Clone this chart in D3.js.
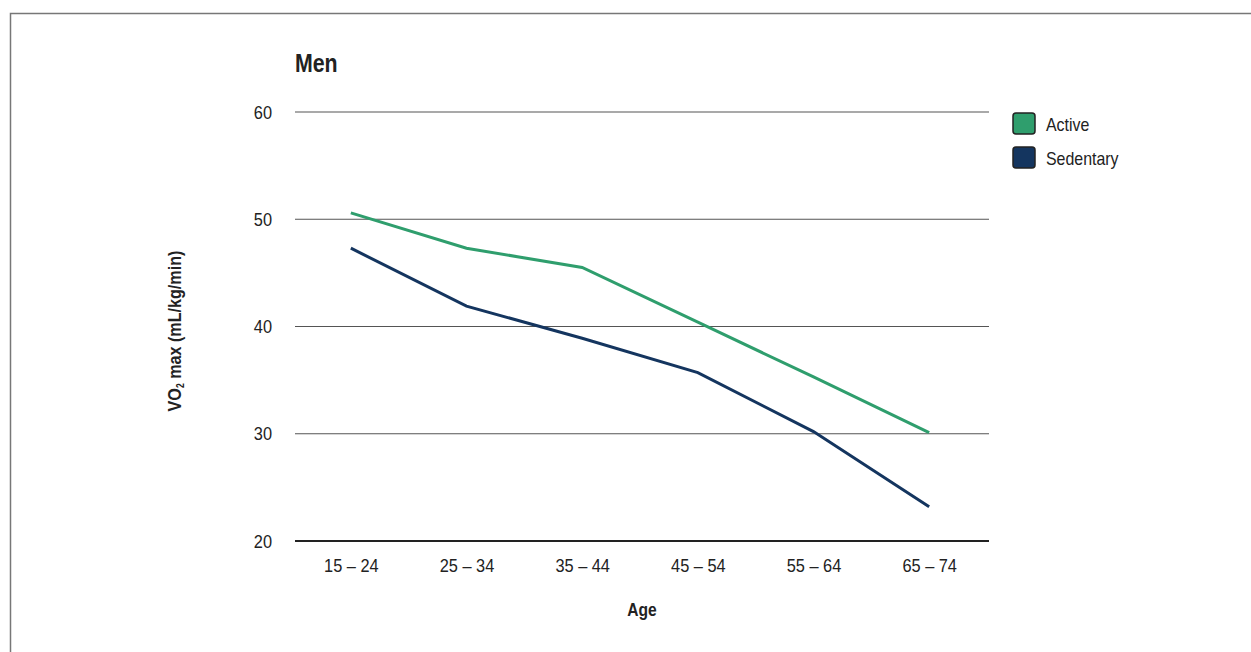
<!DOCTYPE html>
<html><head><meta charset="utf-8">
<script src="https://cdn.jsdelivr.net/npm/d3@7"></script>
<style>
body{margin:0;background:#fff;}
text{font-family:"Liberation Sans",Arial,sans-serif;fill:#222;}
</style></head>
<body><svg id="chart" width="1251" height="652"></svg>
<script>
const categories = ["15 – 24","25 – 34","35 – 44","45 – 54","55 – 64","65 – 74"];
const activeValues = [50.6, 47.3, 45.5, 40.4, 35.3, 30.1];
const sedentaryValues = [47.3, 41.9, 38.9, 35.7, 30.2, 23.2];
const yTicks = [20, 30, 40, 50, 60];
const seriesNames = ["Active", "Sedentary"];
const seriesColors = ["#2f9e6d", "#14355f"];

const svg = d3.select("#chart");
// frame
svg.append("path").attr("d","M10.5,652 V13.5 H1251").attr("fill","none").attr("stroke","#777").attr("stroke-width",1.5);

const x = d3.scalePoint().domain(categories).range([293, 987]).padding(0.5);
const y = d3.scaleLinear().domain([20, 60]).range([541, 112]);

// grid
svg.append("g").selectAll("line").data(yTicks).join("line")
  .attr("x1",295).attr("x2",989)
  .attr("y1",d=>y(d)).attr("y2",d=>y(d))
  .attr("stroke",d=>d===20?"#222":"#555")
  .attr("stroke-width",d=>d===20?2:1.2);

const yAxis = svg.append("g").attr("transform","translate(272,0)")
  .call(d3.axisLeft(y).tickValues(yTicks).tickSize(0).tickPadding(0));
yAxis.select(".domain").remove();
yAxis.selectAll("text").attr("font-size",19).attr("font-family",null).attr("fill","#222");

const xAxis = svg.append("g").attr("transform","translate(0,541)")
  .call(d3.axisBottom(x).tickSize(0).tickPadding(18));
xAxis.select(".domain").remove();
xAxis.selectAll("text").attr("font-size",19).attr("font-family",null).attr("fill","#222");

const line = d3.line().x((d,i)=>x(categories[i])).y(d=>y(d));
[activeValues, sedentaryValues].forEach((vals,i)=>{
  svg.append("path").datum(vals).attr("d",line).attr("fill","none")
    .attr("stroke",seriesColors[i]).attr("stroke-width",3);
});

// title
svg.append("text").attr("class","cond").attr("x",295).attr("y",72).attr("font-size",26).attr("font-weight","bold").text("Men");

// axis titles
const yl = svg.append("text").attr("transform","translate(181,331) rotate(-90) scale(0.85,1)")
  .attr("text-anchor","middle").attr("font-size",19).attr("font-weight","bold");
yl.append("tspan").text("VO");
yl.append("tspan").attr("font-size",10).attr("dy",3).text("2");
yl.append("tspan").attr("dy",-3).text(" max (mL/kg/min)");

svg.append("text").attr("class","cond").attr("x",642).attr("y",616).attr("text-anchor","middle")
  .attr("font-size",19).attr("font-weight","bold").text("Age");

// legend
const lg = svg.append("g");
seriesNames.forEach((n,i)=>{
  const yy = 113 + i*34;
  lg.append("rect").attr("x",1013).attr("y",yy).attr("width",22).attr("height",21).attr("rx",3)
    .attr("fill",seriesColors[i]).attr("stroke","#222").attr("stroke-width",1.5);
  lg.append("text").attr("class","cond").attr("x",1046).attr("y",yy+17.5).attr("font-size",18.5).text(n);
});

// condense text horizontally (narrow typeface look)
svg.selectAll(".tick text, text.cond").each(function(){
  const t = d3.select(this);
  const bold = t.attr("font-weight")==="bold";
  const len = this.getComputedTextLength();
  t.attr("textLength", len*(bold?0.82:0.86)).attr("lengthAdjust","spacingAndGlyphs");
});
</script></body></html>
